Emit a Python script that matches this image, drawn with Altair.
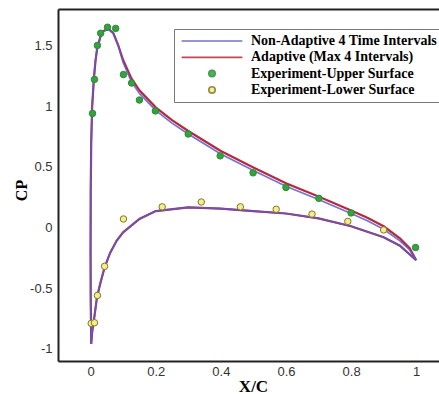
import altair as alt
import pandas as pd

# ---- series names and styling ----
series_names = [
    "Non-Adaptive 4 Time Intervals",
    "Adaptive (Max 4 Intervals)",
    "Experiment-Upper Surface",
    "Experiment-Lower Surface",
]
stroke_colors = ["#5a5ac8", "#b8283c", "#2a8c34", "#857526"]
fill_colors = ["transparent", "transparent", "#34a33f", "#f3ee8c"]
legend_shapes = ["M-9.6,0L9.6,0", "M-9.6,0L9.6,0", "circle", "circle"]

# ---- computed CP distributions (lower surface TE -> LE, then upper surface LE -> TE) ----
lower_x = [1.0, 0.95, 0.9, 0.8, 0.7, 0.6, 0.5, 0.4, 0.3, 0.2, 0.15, 0.1, 0.08,
           0.06, 0.043, 0.03, 0.02, 0.01, 0.005, 0.002]
lower_cp = [-0.27, -0.15, -0.08, 0.01, 0.075, 0.115, 0.135, 0.155, 0.165, 0.135,
            0.07, -0.04, -0.11, -0.21, -0.33, -0.46, -0.57, -0.77, -0.86, -0.96]

upper_x = [0.0005, 0.0, 0.0005, 0.002, 0.005, 0.01, 0.015, 0.02, 0.03, 0.04, 0.055,
           0.07, 0.085, 0.1, 0.125, 0.15, 0.2, 0.25, 0.3, 0.4, 0.5, 0.6, 0.7, 0.8,
           0.85, 0.9, 0.95, 0.98, 1.0]
upper_cp_adaptive = [-0.6, -0.2, 0.3, 0.7, 1.0, 1.22, 1.37, 1.47, 1.57, 1.62, 1.635,
                     1.6, 1.5, 1.38, 1.23, 1.13, 0.99, 0.885, 0.795, 0.63, 0.495,
                     0.365, 0.255, 0.14, 0.08, 0.01, -0.09, -0.17, -0.27]
upper_cp_fixed = [-0.6, -0.2, 0.3, 0.7, 1.0, 1.22, 1.37, 1.47, 1.57, 1.62, 1.635,
                  1.6, 1.5, 1.36, 1.205, 1.105, 0.965, 0.86, 0.77, 0.605, 0.47,
                  0.34, 0.23, 0.115, 0.055, -0.015, -0.11, -0.185, -0.27]

# ---- experimental data ----
exp_upper_x = [0.006, 0.012, 0.021, 0.031, 0.052, 0.077, 0.101, 0.126, 0.150, 0.199,
               0.300, 0.398, 0.499, 0.600, 0.701, 0.800, 0.998]
exp_upper_cp = [0.94, 1.22, 1.50, 1.60, 1.65, 1.64, 1.26, 1.19, 1.05, 0.96,
                0.77, 0.59, 0.45, 0.33, 0.24, 0.12, -0.165]
exp_lower_x = [0.002, 0.012, 0.021, 0.043, 0.101, 0.22, 0.34, 0.46, 0.57, 0.68, 0.79, 0.90]
exp_lower_cp = [-0.79, -0.785, -0.56, -0.32, 0.07, 0.17, 0.21, 0.17, 0.15, 0.11, 0.05, -0.02]

x_ticks = [0, 0.2, 0.4, 0.6, 0.8, 1]
y_ticks = [-1, -0.5, 0, 0.5, 1, 1.5]

# ---- tables ----
rows = []
for name, up in [(series_names[0], upper_cp_fixed), (series_names[1], upper_cp_adaptive)]:
    xs = lower_x + upper_x
    cps = lower_cp + up
    for i, (xv, cv) in enumerate(zip(xs, cps)):
        rows.append({"series": name, "idx": i, "x": xv, "cp": cv})
curves = pd.DataFrame(rows)

pts = pd.DataFrame(
    [{"series": series_names[2], "x": a, "cp": b} for a, b in zip(exp_upper_x, exp_upper_cp)]
    + [{"series": series_names[3], "x": a, "cp": b} for a, b in zip(exp_lower_x, exp_lower_cp)]
)

# ---- scales, axes, legend ----
x_scale = alt.Scale(domain=[-0.1, 1.07], nice=False, zero=False)
y_scale = alt.Scale(domain=[-1.1, 1.8], nice=False, zero=False)
stroke_scale = alt.Scale(domain=series_names, range=stroke_colors)
fill_scale = alt.Scale(domain=series_names, range=fill_colors)
shape_scale = alt.Scale(domain=series_names, range=legend_shapes)

num_label = "datum.value + ''"
x_axis = alt.Axis(values=x_ticks, title="X/C", ticks=False, grid=False, labelPadding=4,
                  labelExpr=num_label, titleFont="Liberation Serif", titleFontWeight="bold",
                  titleFontSize=17, titleColor="black", titleX=195, titleY=25,
                  titleBaseline="middle")
y_axis = alt.Axis(values=y_ticks, title="CP", ticks=False, grid=False, labelPadding=6,
                  labelExpr=num_label, titleFont="Liberation Serif", titleFontWeight="bold",
                  titleFontSize=16, titleColor="black", titleX=-37, titleY=181,
                  titleBaseline="middle", titleAlign="center")
top_axis = alt.Axis(orient="top", labels=False, ticks=False, grid=False, title=None, domain=True)

legend = alt.Legend(
    orient="none", legendX=116, legendY=20, title=None, direction="vertical",
    labelFont="Liberation Serif", labelFontWeight="bold", labelFontSize=14,
    labelColor="black", labelLimit=400, symbolSize=40, symbolStrokeWidth=1.7,
    symbolOffset=26, labelOffset=32, padding=5, rowPadding=2.3,
    strokeColor="#777", fillColor="white",
)

base = alt.Chart(curves)

adaptive_line = base.transform_filter(
    alt.datum.series == series_names[1]
).mark_line(strokeWidth=2.2).encode(
    x=alt.X("x:Q", scale=x_scale, axis=x_axis),
    y=alt.Y("cp:Q", scale=y_scale, axis=y_axis),
    order="idx:Q",
    stroke=alt.Stroke("series:N", scale=stroke_scale, legend=legend),
)

fixed_line = base.transform_filter(
    alt.datum.series == series_names[0]
).mark_line(strokeWidth=1.7, opacity=0.85).encode(
    x=alt.X("x:Q", scale=x_scale, axis=None),
    y=alt.Y("cp:Q", scale=y_scale, axis=y_axis),
    order="idx:Q",
    stroke=alt.Stroke("series:N", scale=stroke_scale, legend=legend),
)

points = alt.Chart(pts).mark_point(size=42, strokeWidth=1, opacity=1).encode(
    x=alt.X("x:Q", scale=x_scale, axis=top_axis),
    y=alt.Y("cp:Q", scale=y_scale, axis=y_axis),
    stroke=alt.Stroke("series:N", scale=stroke_scale, legend=legend),
    fill=alt.Fill("series:N", scale=fill_scale, legend=legend),
    shape=alt.Shape("series:N", scale=shape_scale, legend=legend),
)

chart = alt.layer(adaptive_line, fixed_line, points).resolve_axis(
    x="independent"
).properties(
    width=381, height=352,
    autosize=alt.AutoSizeParams(type="none"),
    padding={"left": 58, "top": 9, "right": 0, "bottom": 33},
    background="white",
).configure_view(
    stroke=None
).configure_axis(
    domainColor="#222", domainWidth=2, labelFont="Liberation Sans",
    labelFontSize=13, labelColor="#333",
)

chart.save("out.html", embed_options={"renderer": "svg", "actions": False})
